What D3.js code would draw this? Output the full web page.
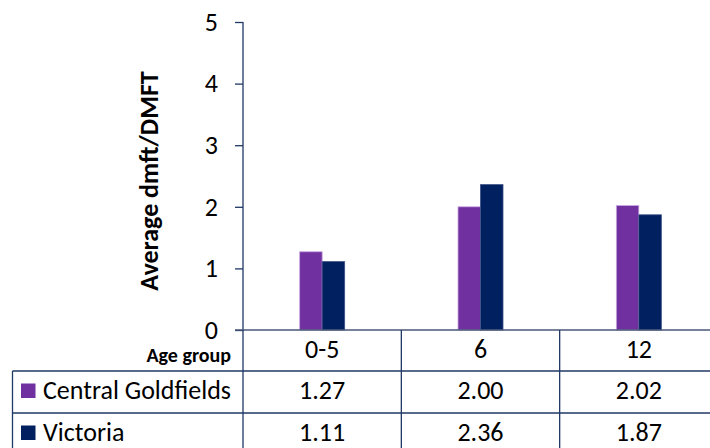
<!DOCTYPE html>
<html>
<head>
<meta charset="utf-8">
<script src="https://cdn.jsdelivr.net/npm/d3@7"></script>
<style>
  html, body { margin: 0; padding: 0; background: #fff; }
  svg { display: block; }
  text { font-family: Calibri, Carlito, "Liberation Sans", Arial, sans-serif; fill: #000; }
</style>
</head>
<body>
<svg id="chart" width="710" height="448"></svg>
<script>
// Average dmft/DMFT by age group
const ageGroups = ["0-5", "6", "12"];
const seriesNames = ["Central Goldfields", "Victoria"];
const centralGoldfields = [1.27, 2.00, 2.02];
const victoria = [1.11, 2.36, 1.87];
const yTicks = [0, 1, 2, 3, 4, 5];

const seriesValues = [centralGoldfields, victoria];
const colors = ["#7030a0", "#002060"];
const edgeColors = ["#c9a7e2", "#3b4f86"];

const svg = d3.select("#chart");

const plotLeft = 243, plotRight = 718, plotTop = 22, plotBottom = 330;
const rowEdges = [330, 371, 413, 455];
const baselineOffset = 27.5;
const tableLeft = 12.5;
const lineColor = "#1f3864";
const bodySize = "26px";

const x = d3.scaleBand().domain(ageGroups).range([plotLeft, plotRight]).paddingInner(0).paddingOuter(0);
const groupWidth = 45;
const x1 = d3.scaleBand().domain(seriesNames)
  .range([x.bandwidth() / 2 - groupWidth / 2, x.bandwidth() / 2 + groupWidth / 2]);
const y = d3.scaleLinear().domain([0, 5]).range([plotBottom, plotTop]);

// y axis
const yAxis = svg.append("g")
  .attr("transform", `translate(${plotLeft},0)`)
  .call(d3.axisLeft(y).tickValues(yTicks).tickFormat(d3.format("d")).tickSize(8).tickPadding(17));
yAxis.select(".domain").attr("stroke", lineColor).attr("stroke-width", 1.3).attr("d", `M0,${plotTop}V${plotBottom}`);
yAxis.selectAll(".tick line").attr("stroke", lineColor).attr("stroke-width", 1.3);
yAxis.selectAll(".tick text").style("font-size", bodySize).attr("fill", "#000");

// axis title
svg.append("text")
  .attr("transform", `translate(158,${(plotTop + plotBottom) / 2 + 5}) rotate(-90)`)
  .attr("text-anchor", "middle")
  .style("font-size", "26px")
  .style("font-weight", "bold")
  .text("Average dmft/DMFT");

// bars
const groups = svg.append("g").selectAll("g")
  .data(ageGroups)
  .join("g")
  .attr("transform", d => `translate(${x(d)},0)`);

groups.selectAll("rect")
  .data((d, i) => seriesNames.map((s, j) => ({ series: s, j, value: seriesValues[j][i] })))
  .join("rect")
  .attr("x", d => x1(d.series))
  .attr("width", x1.bandwidth())
  .attr("y", d => y(d.value))
  .attr("height", d => y(0) - y(d.value))
  .attr("fill", d => colors[d.j])
  .attr("stroke", d => edgeColors[d.j])
  .attr("stroke-width", 0.8);

// category axis and table grid
const table = svg.append("g").attr("fill", "none");
table.append("line")
  .attr("x1", plotLeft - 8).attr("x2", plotRight)
  .attr("y1", plotBottom).attr("y2", plotBottom)
  .attr("stroke", "#4a5878").attr("stroke-width", 1.4);

const boundaries = ageGroups.map(d => x(d)).concat([x(ageGroups[ageGroups.length - 1]) + x.bandwidth()]);
boundaries.forEach(bx => {
  table.append("line")
    .attr("x1", bx).attr("x2", bx)
    .attr("y1", plotBottom).attr("y2", rowEdges[3])
    .attr("stroke", lineColor).attr("stroke-width", 1.3);
});
table.append("line")
  .attr("x1", tableLeft).attr("x2", tableLeft)
  .attr("y1", rowEdges[1]).attr("y2", rowEdges[3])
  .attr("stroke", lineColor).attr("stroke-width", 1.3);
[rowEdges[1], rowEdges[2], rowEdges[3]].forEach(ry => {
  table.append("line")
    .attr("x1", tableLeft).attr("x2", plotRight)
    .attr("y1", ry).attr("y2", ry)
    .attr("stroke", lineColor).attr("stroke-width", 1.3);
});

// header row
svg.append("text")
  .attr("x", 231).attr("y", 362)
  .attr("text-anchor", "end")
  .style("font-size", "20px")
  .style("font-weight", "bold")
  .text("Age group");

svg.append("g").selectAll("text")
  .data(ageGroups)
  .join("text")
  .attr("x", d => x(d) + x.bandwidth() / 2)
  .attr("y", rowEdges[0] + baselineOffset)
  .attr("text-anchor", "middle")
  .style("font-size", bodySize)
  .text(d => d);

// data rows with legend keys
seriesNames.forEach((name, j) => {
  const top = rowEdges[j + 1];
  const base = top + baselineOffset;
  svg.append("rect")
    .attr("x", 21).attr("y", base - 15)
    .attr("width", 14.5).attr("height", 14.5)
    .attr("fill", colors[j]);
  svg.append("text")
    .attr("x", 43).attr("y", base)
    .style("font-size", bodySize)
    .text(name);
  svg.append("g").selectAll("text")
    .data(seriesValues[j])
    .join("text")
    .attr("x", (d, i) => x(ageGroups[i]) + x.bandwidth() / 2)
    .attr("y", base)
    .attr("text-anchor", "middle")
    .style("font-size", bodySize)
    .text(d => d3.format(".2f")(d));
});
</script>
</body>
</html>
